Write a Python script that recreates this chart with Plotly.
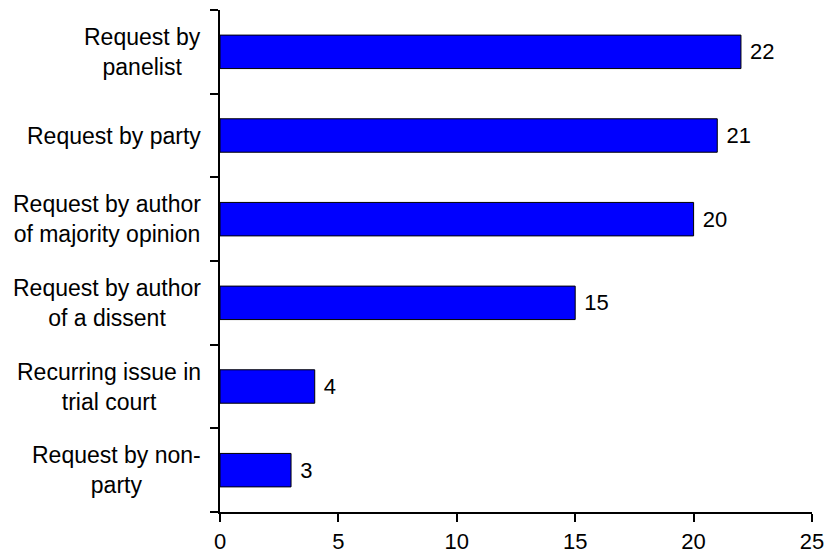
import plotly.graph_objects as go

categories = [
    "Request by<br>panelist",
    "Request by party",
    "Request by author<br>of majority opinion",
    "Request by author<br>of a dissent",
    "Recurring issue in<br>trial court",
    "Request by non-<br>party",
]
values = [22, 21, 20, 15, 4, 3]
x_ticks = [0, 5, 10, 15, 20, 25]

FONT = "Arial, Liberation Sans, sans-serif"

fig = go.Figure()
fig.add_trace(go.Bar(
    y=list(range(len(categories))),
    x=values,
    orientation="h",
    width=0.4,
    marker=dict(color="#0000FF", line=dict(color="black", width=1)),
    text=["\u00a0" + str(v) for v in values],
    textposition="outside",
    textfont=dict(family=FONT, size=22, color="black"),
    cliponaxis=False,
    hoverinfo="skip",
))

for i, c in enumerate(categories):
    fig.add_annotation(
        x=0, xref="paper", y=i, yref="y",
        text=c, showarrow=False, xanchor="right", align="center",
        xshift=-17, font=dict(family=FONT, size=23, color="black"),
    )

fig.update_layout(
    template="none",
    width=827, height=557,
    margin=dict(l=220, r=15, t=10, b=45, autoexpand=False),
    paper_bgcolor="white", plot_bgcolor="white",
    showlegend=False,
    font=dict(family=FONT, color="black"),
    xaxis=dict(
        range=[0, 25], tickvals=x_ticks, ticktext=[str(t) for t in x_ticks],
        showgrid=False, zeroline=False, automargin=False,
        showline=True, linecolor="black", linewidth=1.5,
        ticks="outside", ticklen=8, tickwidth=1.5, tickcolor="black",
        tickfont=dict(family=FONT, size=22, color="black"),
        ticklabelstandoff=1,
    ),
    yaxis=dict(
        range=[5.5, -0.5],
        tickvals=[-0.5, 0.5, 1.5, 2.5, 3.5, 4.5, 5.5],
        showticklabels=False, automargin=False,
        showgrid=False, zeroline=False,
        showline=True, linecolor="black", linewidth=1.5,
        ticks="outside", ticklen=8, tickwidth=1.5, tickcolor="black",
    ),
)

fig.write_html("out.html", config={"displayModeBar": False},
               post_script="document.body.style.margin='0';")
